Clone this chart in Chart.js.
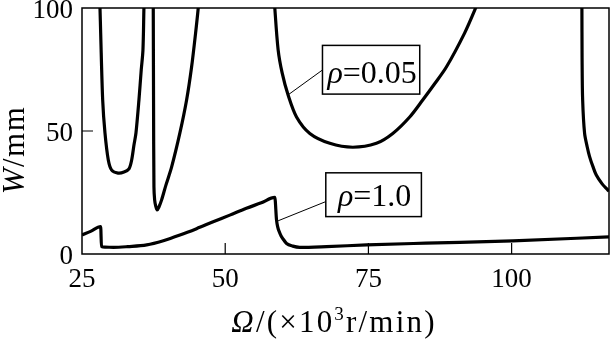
<!DOCTYPE html>
<html>
<head>
<meta charset="utf-8">
<script src="https://cdn.jsdelivr.net/npm/chart.js@4.4.1/dist/chart.umd.min.js"></script>
<style>
  html, body { margin: 0; padding: 0; background: #fff; }
</style>
</head>
<body>
<canvas id="chart" width="611" height="340"></canvas>
<script>
// tick values on both axes
const xTickValues = [25, 50, 75, 100];
const yTickValues = [0, 50, 100];

// rho = 0.05 : four separate branches, null = gap between them
const omegaRho005 = [
  28.05, 28.14, 28.26, 28.61, 29.01, 29.59, 30.18, 31.3, 32.33, 33.2, 33.67, 34.07, 34.42, 34.94, 35.34, 35.64, 35.81, 35.86,
  null,
  37.43, 37.44, 37.49, 37.56, 37.68, 37.87, 38.13, 38.43, 38.9, 39.65, 40.65, 42.09, 43.26, 44.13, 44.83, 45.29, 45.36,
  null,
  58.6, 58.66, 59.24, 59.94, 60.98, 62.45, 64.77, 68.26, 72.27, 76.4, 79.25, 82.21, 84.48, 86.5, 88.61, 91.79, 93.72, 94.0,
  null,
  112.24, 112.27, 112.3, 112.4, 112.74, 113.2, 113.61, 114.2, 114.78, 115.8, 116.8, 117
];
const wRho005 = [
  104, 100, 89.8, 62.6, 49.2, 38.2, 34.1, 32.9, 33.3, 34.6, 38.2, 44.3, 49.2, 62.6, 74.8, 82.9, 100, 104,
  null,
  104, 100, 62.6, 27.2, 22, 19.5, 17.9, 19.1, 22, 28, 35.4, 49.2, 62.6, 76, 89.8, 100, 103,
  null,
  104, 100, 83, 73.6, 64.6, 55.7, 49, 45, 43.4, 45, 49, 55.7, 62.6, 69, 76, 89.8, 100, 102,
  null,
  104, 100, 80, 62.6, 49, 43.5, 39.6, 35.5, 32.1, 28.5, 26, 25.5
];

// rho = 1.0
const omegaRho10 = [25, 26.5, 28.26, 28.4, 29, 30.5, 33, 36.3, 39.2, 42.1, 45, 47.9, 50.8, 53.7, 56.3, 58.66,
  58.96, 59.54, 60.2, 60.71, 61.8, 63.0, 67.7, 74.7, 85, 100.2, 117];
const wRho10 = [7.7, 9.2, 11.1, 3.0, 2.8, 2.7, 3.0, 3.7, 5.4, 7.7, 10.3, 13.1, 15.8, 18.6, 20.8, 23.0,
  13.8, 8.4, 5.8, 4.3, 3.2, 2.7, 3.0, 3.7, 4.4, 5.3, 7.0];

const seriesNames = ['0.05', '1.0'];

const serif = '"Liberation Serif", "DejaVu Serif", serif';

function toPoints(xs, ys) {
  return xs.map((x, i) => ({ x: x, y: ys[i] }));
}

function fontFor(run, size) {
  const s = run.sup ? Math.round(size * 0.6) : size;
  return (run.italic ? 'italic ' : '') + s + 'px ' + serif;
}

// draw text made of several runs (italic / superscript parts), centred on x
function drawRuns(ctx, runs, x, y, size, spacing) {
  ctx.letterSpacing = (spacing || 0) + 'px';
  let total = 0;
  const widths = runs.map(r => {
    ctx.font = fontFor(r, size);
    const w = ctx.measureText(r.t).width;
    total += w;
    return w;
  });
  let cx = x - total / 2;
  ctx.textAlign = 'left';
  ctx.textBaseline = 'alphabetic';
  runs.forEach((r, i) => {
    ctx.font = fontFor(r, size);
    ctx.fillText(r.t, cx, r.sup ? y - size * 0.4 : y);
    cx += widths[i];
  });
  ctx.letterSpacing = '0px';
}

// label boxes with leader lines, placed in data units
const notes = [
  { name: seriesNames[0], box: [66.98, 83.96, 84.8, 65.0], lead: [[66.98, 74.8], [60.93, 64.6]] },
  { name: seriesNames[1], box: [67.56, 84.25, 33.0, 15.2], lead: [[67.56, 21.3], [59.24, 13.5]] }
];

const framePlugin = {
  id: 'frame',
  afterDatasetsDraw(chart) {
    const ctx = chart.ctx;
    const a = chart.chartArea;
    const xs = chart.scales.x;
    const ys = chart.scales.y;
    ctx.save();
    ctx.strokeStyle = '#000';
    ctx.fillStyle = '#000';

    // frame
    ctx.lineWidth = 1.5;
    ctx.strokeRect(a.left, a.top, a.right - a.left, a.bottom - a.top);

    // inward ticks
    ctx.lineWidth = 1.2;
    ctx.beginPath();
    xTickValues.forEach(v => {
      const px = xs.getPixelForValue(v);
      if (px > a.left + 2) { ctx.moveTo(px, a.bottom); ctx.lineTo(px, a.bottom - 11); }
    });
    yTickValues.forEach(v => {
      const py = ys.getPixelForValue(v);
      if (py > a.top + 2 && py < a.bottom - 2) { ctx.moveTo(a.left, py); ctx.lineTo(a.left + 11, py); }
    });
    ctx.stroke();

    // annotations
    notes.forEach(n => {
      const x1 = xs.getPixelForValue(n.box[0]);
      const x2 = xs.getPixelForValue(n.box[1]);
      const y1 = ys.getPixelForValue(n.box[2]);
      const y2 = ys.getPixelForValue(n.box[3]);
      ctx.lineWidth = 1;
      ctx.beginPath();
      ctx.moveTo(xs.getPixelForValue(n.lead[0][0]), ys.getPixelForValue(n.lead[0][1]));
      ctx.lineTo(xs.getPixelForValue(n.lead[1][0]), ys.getPixelForValue(n.lead[1][1]));
      ctx.stroke();
      ctx.fillStyle = '#fff';
      ctx.fillRect(x1, y1, x2 - x1, y2 - y1);
      ctx.lineWidth = 1.5;
      ctx.strokeRect(x1, y1, x2 - x1, y2 - y1);
      ctx.fillStyle = '#000';
      drawRuns(ctx, [{ t: 'ρ', italic: true }, { t: '=' + n.name }], (x1 + x2) / 2 + 1, y2 - 11, 32);
    });

    // axis titles
    drawRuns(ctx, [{ t: 'Ω', italic: true }, { t: '/(×10' }, { t: '3', sup: true }, { t: 'r/min)' }], 334, 332, 31, 2.2);
    ctx.translate(24, 150);
    ctx.rotate(-Math.PI / 2);
    drawRuns(ctx, [{ t: 'W', italic: true }, { t: '/mm' }], 0, 0, 31, 1.5);
    ctx.restore();
  }
};

const lineStyle = {
  borderColor: '#000',
  borderWidth: 3.2,
  pointRadius: 0,
  fill: false,
  spanGaps: false,
  capBezierPoints: false,
  clip: 0
};

new Chart(document.getElementById('chart'), {
  type: 'line',
  data: {
    datasets: [
      Object.assign({ label: 'ρ=' + seriesNames[0], data: toPoints(omegaRho005, wRho005), tension: 0.3 }, lineStyle),
      Object.assign({ label: 'ρ=' + seriesNames[1], data: toPoints(omegaRho10, wRho10), cubicInterpolationMode: 'monotone' }, lineStyle)
    ]
  },
  options: {
    responsive: false,
    animation: false,
    layout: { padding: { top: 8, right: 2, left: 0, bottom: 0 } },
    plugins: { legend: { display: false }, tooltip: { enabled: false } },
    scales: {
      x: {
        type: 'linear',
        min: 25,
        max: 117,
        afterBuildTicks: s => { s.ticks = xTickValues.map(v => ({ value: v })); },
        afterFit: s => { s.height = 86; s.paddingLeft = 0; s.paddingRight = 0; },
        grid: { display: false, drawTicks: false },
        border: { display: false },
        ticks: { color: '#000', padding: 10, maxRotation: 0, font: { family: serif, size: 27 } }
      },
      y: {
        min: 0,
        max: 100,
        afterBuildTicks: s => { s.ticks = yTickValues.map(v => ({ value: v })); },
        afterFit: s => { s.width = 82; s.paddingTop = 0; s.paddingBottom = 0; },
        grid: { display: false, drawTicks: false },
        border: { display: false },
        ticks: { color: '#000', padding: 9, labelOffset: 3, font: { family: serif, size: 27 } }
      }
    }
  },
  plugins: [framePlugin]
});
</script>
</body>
</html>
